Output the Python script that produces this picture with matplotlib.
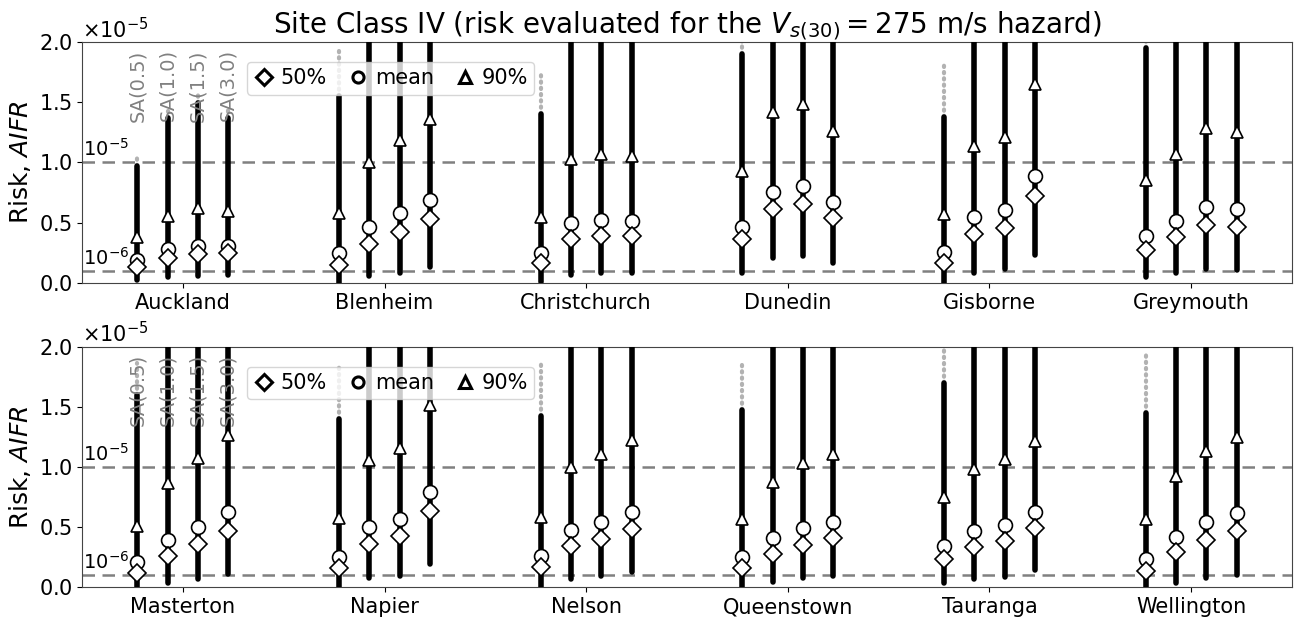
import numpy as np
import matplotlib.pyplot as plt

# values in units of 1e-5
periods = ['SA(0.5)', 'SA(1.0)', 'SA(1.5)', 'SA(3.0)']
cities_top = ['Auckland', 'Blenheim', 'Christchurch', 'Dunedin', 'Gisborne', 'Greymouth']
cities_bot = ['Masterton', 'Napier', 'Nelson', 'Queenstown', 'Tauranga', 'Wellington']

# rows = cities, cols = periods
p50_top = [[0.135, 0.21, 0.238, 0.25],
           [0.149, 0.324, 0.426, 0.53],
           [0.163, 0.365, 0.39, 0.39],
           [0.363, 0.61, 0.653, 0.537],
           [0.163, 0.404, 0.459, 0.722],
           [0.274, 0.379, 0.481, 0.467]]
mean_top = [[0.188, 0.28, 0.31, 0.31],
            [0.246, 0.467, 0.578, 0.69],
            [0.246, 0.50, 0.523, 0.517],
            [0.467, 0.758, 0.805, 0.67],
            [0.255, 0.548, 0.603, 0.888],
            [0.39, 0.517, 0.633, 0.61]]
p90_top = [[0.384, 0.556, 0.62, 0.60],
           [0.578, 1.0, 1.19, 1.36],
           [0.55, 1.03, 1.07, 1.05],
           [0.93, 1.42, 1.485, 1.26],
           [0.57, 1.14, 1.214, 1.65],
           [0.855, 1.07, 1.284, 1.25]]
low_top = [[0.02, 0.05, 0.058, 0.066],
           [0.0, 0.058, 0.086, 0.135],
           [0.01, 0.066, 0.08, 0.086],
           [0.086, 0.205, 0.224, 0.168],
           [0.0, 0.086, 0.114, 0.232],
           [0.047, 0.08, 0.114, 0.108]]
dense_top = [[0.97, 1.37, 1.49, 1.37],
             [1.55, 2.5, 2.5, 2.5],
             [1.4, 2.5, 2.5, 2.5],
             [1.9, 2.5, 2.5, 2.5],
             [1.38, 2.5, 2.5, 2.5],
             [1.95, 2.5, 2.5, 2.5]]
max_top = [[1.05, 1.43, 1.57, 1.44],
           [1.93, 2.5, 2.5, 2.5],
           [1.76, 2.5, 2.5, 2.5],
           [2.5, 2.5, 2.5, 2.5],
           [1.83, 2.5, 2.5, 2.5],
           [2.5, 2.5, 2.5, 2.5]]

p50_bot = [[0.116, 0.263, 0.357, 0.47],
           [0.163, 0.357, 0.426, 0.634],
           [0.166, 0.343, 0.40, 0.482],
           [0.158, 0.277, 0.352, 0.407],
           [0.235, 0.337, 0.385, 0.49],
           [0.138, 0.29, 0.393, 0.47]]
mean_bot = [[0.208, 0.393, 0.504, 0.628],
            [0.254, 0.504, 0.568, 0.795],
            [0.26, 0.476, 0.54, 0.623],
            [0.249, 0.407, 0.49, 0.54],
            [0.346, 0.47, 0.515, 0.626],
            [0.235, 0.42, 0.54, 0.615]]
p90_bot = [[0.51, 0.87, 1.072, 1.266],
           [0.573, 1.058, 1.155, 1.515],
           [0.587, 0.997, 1.108, 1.224],
           [0.568, 0.873, 1.036, 1.105],
           [0.753, 0.983, 1.066, 1.216],
           [0.565, 0.925, 1.136, 1.252]]
low_bot = [[0.0, 0.033, 0.066, 0.108],
           [0.0, 0.075, 0.094, 0.191],
           [0.0, 0.066, 0.094, 0.13],
           [0.0, 0.042, 0.075, 0.094],
           [0.033, 0.066, 0.088, 0.144],
           [0.0, 0.038, 0.075, 0.102]]
dense_bot = [[1.6, 2.5, 2.5, 2.5],
             [1.40, 2.5, 2.5, 2.5],
             [1.42, 2.5, 2.5, 2.5],
             [1.47, 2.5, 2.5, 2.5],
             [1.7, 2.5, 2.5, 2.5],
             [1.45, 2.5, 2.5, 2.5]]
max_bot = [[1.86, 2.5, 2.5, 2.5],
           [1.86, 2.5, 2.5, 2.5],
           [1.88, 2.5, 2.5, 2.5],
           [1.88, 2.5, 2.5, 2.5],
           [1.97, 2.5, 2.5, 2.5],
           [1.95, 2.5, 2.5, 2.5]]

offsets = [-0.225, -0.075, 0.075, 0.225]
scale = 1e-5

fig = plt.figure(figsize=(12.96, 6.19), dpi=100)
ax1 = fig.add_axes([0.0633, 0.543, 0.9336, 0.389])
ax2 = fig.add_axes([0.0633, 0.0512, 0.9336, 0.389])


def draw(ax, cities, p50, mean, p90, low, dtop, vmax):
    for i in range(len(cities)):
        for j, off in enumerate(offsets):
            x = i + off
            # sparse upper samples (gray dots)
            ax.plot([x, x], [dtop[i][j] * scale, vmax[i][j] * scale], color='gray', alpha=0.6,
                    lw=3, linestyle=(0, (0.3, 1.2)), dash_capstyle='round', zorder=2)
            ax.plot([x, x], [low[i][j] * scale, dtop[i][j] * scale], color='black',
                    lw=4, solid_capstyle='round', zorder=3)
            ax.plot(x, p90[i][j] * scale, '^', ms=9, mfc='white', mec='black', mew=1.2, zorder=5)
            ax.plot(x, mean[i][j] * scale, 'o', ms=10, mfc='white', mec='black', mew=1.2, zorder=5)
            ax.plot(x, p50[i][j] * scale, 'D', ms=9, mfc='white', mec='black', mew=1.2, zorder=5)

    ax.axhline(1e-5, color='gray', ls='--', lw=1.8, dashes=(5, 3), zorder=1)
    ax.axhline(1e-6, color='gray', ls='--', lw=1.8, dashes=(5, 3), zorder=1)
    ax.text(-0.495, 1.02e-5, r'$10^{-5}$', fontsize=14, va='bottom', ha='left')
    ax.text(-0.495, 0.12e-5, r'$10^{-6}$', fontsize=14, va='bottom', ha='left')

    for j, off in enumerate(offsets):
        ax.text(off, 1.94e-5, periods[j], rotation=90, color='gray', fontsize=14,
                ha='center', va='top', zorder=4)

    ax.set_xlim(-0.5, len(cities) - 0.5)
    ax.set_ylim(0, 2e-5)
    ax.set_xticks(range(len(cities)))
    ax.set_xticklabels(cities, fontsize=15)
    ax.set_yticks([0, 0.5e-5, 1e-5, 1.5e-5, 2e-5])
    ax.tick_params(axis='y', labelsize=15)
    ax.ticklabel_format(axis='y', style='sci', scilimits=(0, 0), useMathText=True)
    ax.yaxis.get_offset_text().set_fontsize(15)
    ax.set_ylabel('Risk, $AIFR$', fontsize=18)
    for s in ax.spines.values():
        s.set_color('#444444')

    h1, = ax.plot([], [], 'D', ms=8, mfc='white', mec='black', mew=2.2)
    h2, = ax.plot([], [], 'o', ms=8, mfc='white', mec='black', mew=2.2)
    h3, = ax.plot([], [], '^', ms=8, mfc='white', mec='black', mew=2.2)
    ax.legend([h1, h2, h3], ['50%', 'mean', '90%'], loc='upper left', ncol=3, fontsize=15,
              bbox_to_anchor=(0.128, 0.96), handletextpad=0.3, columnspacing=1.0,
              handlelength=1.0, borderpad=0.3, framealpha=0.8)


draw(ax1, cities_top, p50_top, mean_top, p90_top, low_top, dense_top, max_top)
draw(ax2, cities_bot, p50_bot, mean_bot, p90_bot, low_bot, dense_bot, max_bot)

ax1.set_title(r'Site Class IV (risk evaluated for the $V_{s(30)} = 275$ m/s hazard)', fontsize=20, pad=4)

plt.savefig('out.png', dpi=100)
plt.close()
